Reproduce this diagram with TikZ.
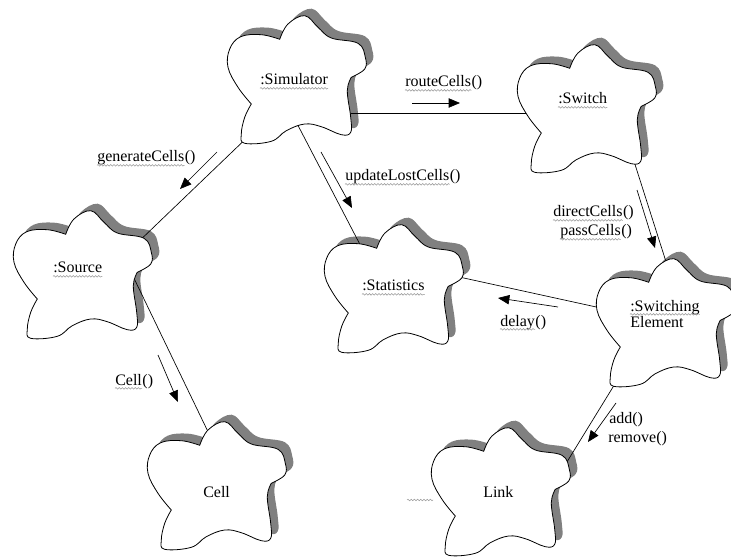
\documentclass[tikz,border=0pt]{standalone}
\usepackage{fontspec}
\setmainfont{Liberation Serif}
\usetikzlibrary{arrows.meta,decorations.pathmorphing}
\newcommand\cloudpath[1]{\path[#1] plot[smooth,tension=0.65] coordinates {(-16.3,-39.7) (-8,-55) (8.7,-63.3) (22,-51.7) (35.3,-41) (62,-35.7) (69.3,-21.7) (68.7,-10) (55.3,-1.7)} -- plot[smooth,tension=0.65] coordinates {(55.3,-1.7) (51.3,11.7) (54.7,38.3) (54.7,53.3) (45.3,55.7) (25.3,47.7) (8.7,45) (-9.7,51.7) (-24.7,62.3) (-51.3,64.3) (-54.7,55) (-51.3,38.3) (-44.7,25)} -- plot[smooth,tension=0.65] coordinates {(-44.7,25) (-58,8.3) (-68,-11.7) (-66.3,-30) (-55.3,-42.3) (-34.7,-44.3) (-16.3,-39.7)} -- cycle;}
\tikzset{
  cloudsh/.pic={\cloudpath{fill=black!50}},
  cloudbd/.pic={\cloudpath{draw, line width=0.6pt, fill=white}},
  lbl/.style={anchor=base west, inner sep=0pt, font=\fontsize{12}{14}\selectfont},
  squig/.style={draw=black!40, line width=0.4pt, decorate, decoration={snake, amplitude=0.6pt, segment length=2.4pt}},
  conn/.style={draw, line width=0.5pt},
  msg/.style={draw, line width=0.5pt, -{Triangle[length=8.5pt,width=7pt]}}
}
\newcommand\ulab[4]{%
  \node[lbl] (#1) at (#2) {#3};
  \node[lbl] (#1p) at (#1.base east) {#4};
  \draw[squig] ([yshift=-2.5pt]#1.base west) -- ([yshift=-2.5pt]#1.base east);
}
\begin{document}
\begin{tikzpicture}[x=0.75pt,y=-0.75pt]
\useasboundingbox (0,0) rectangle (731,559);
% cloud centres
\coordinate (sim) at (296,79);
\coordinate (sw) at (586,108);
\coordinate (src) at (82,274);
\coordinate (stat) at (393,288);
\coordinate (swel) at (665,322);
\coordinate (link) at (500,491);
\coordinate (cell) at (216,485);
% shadows
\foreach \c in {sim,sw,src,stat,swel,link,cell}
  \pic at ([xshift=5.25pt,yshift=5.25pt]\c) {cloudsh};
% connector ends
\coordinate (simA) at (340,113);  \coordinate (swA) at (545,113);
\coordinate (simB) at (255,130);  \coordinate (srcB) at (133,247);
\coordinate (simC) at (291,112);  \coordinate (statC) at (367,258);
\coordinate (statD) at (450,275); \coordinate (swelD) at (610,310);
\coordinate (swE) at (632,155);   \coordinate (swelE) at (668,268);
\coordinate (srcF) at (130,270);  \coordinate (cellF) at (212,440);
\coordinate (swelG) at (621,374); \coordinate (linkG) at (562,470);
\draw[conn] (simA) -- (swA);
\draw[conn] (simB) -- (srcB);
\draw[conn] (simC) -- (statC);
\draw[conn] (statD) -- (swelD);
\draw[conn] (swE) -- (swelE);
\draw[conn] (srcF) -- (cellF);
\draw[conn] (swelG) -- (linkG);
% cloud bodies
\foreach \c in {sim,sw,src,stat,swel,link,cell}
  \pic at (\c) {cloudbd};
% message arrows
\coordinate (m1a) at (412,103); \coordinate (m1b) at (460,103);
\coordinate (m2a) at (217,152); \coordinate (m2b) at (180,189);
\coordinate (m3a) at (321,152); \coordinate (m3b) at (352,208);
\coordinate (m4a) at (637,190); \coordinate (m4b) at (655,248);
\coordinate (m5a) at (558,307); \coordinate (m5b) at (498,298);
\coordinate (m6a) at (158,355); \coordinate (m6b) at (178,402);
\coordinate (m7a) at (616,403); \coordinate (m7b) at (588,442);
\draw[msg] (m1a) -- (m1b);
\draw[msg] (m2a) -- (m2b);
\draw[msg] (m3a) -- (m3b);
\draw[msg] (m4a) -- (m4b);
\draw[msg] (m5a) -- (m5b);
\draw[msg] (m6a) -- (m6b);
\draw[msg] (m7a) -- (m7b);
% labels
\ulab{lsim}{260,85}{:Simulator}{}
\ulab{lsw}{558,104}{:Switch}{}
\ulab{lsrc}{53,273}{:Source}{}
\ulab{lstat}{362,291}{:Statistics}{}
\ulab{lswel}{630,311}{:Switching}{}
\node[lbl] (lswel2) at (630,328) {Element};
\node[lbl] (llink) at (483,497) {Link};
\node[lbl] (lcell) at (203,497) {Cell};
\ulab{lrc}{405,87}{routeCells}{()}
\ulab{lgc}{97,162}{generateCells}{()}
\ulab{lul}{345,181}{updateLostCells}{()}
\ulab{ldc}{553,217}{directCells}{()}
\ulab{lpc}{560,236}{passCells}{()}
\ulab{ldl}{500,326}{delay}{()}
\ulab{lcl}{115,385}{Cell}{()}
\node[lbl] (lad) at (609,423) {add()};
\node[lbl] (lrm) at (608,442) {remove()};
\coordinate (sq1) at (407,500); \coordinate (sq2) at (433,500);
\draw[squig] (sq1) -- (sq2);
\end{tikzpicture}
\end{document}
